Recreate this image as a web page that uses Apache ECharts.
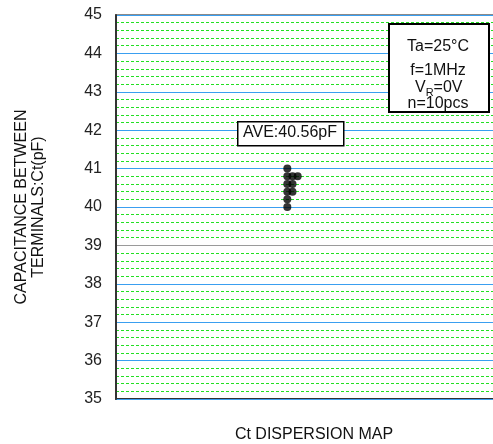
<!DOCTYPE html>
<html>
<head>
<meta charset="utf-8">
<script src="https://cdn.jsdelivr.net/npm/echarts@6/dist/echarts.min.js"></script>
<style>
html,body{margin:0;padding:0;background:#fff;}
#main{width:493px;height:444px;}
</style>
</head>
<body>
<div id="main"></div>
<script>
// ---- data ----
var ctValues = [41.0, 40.8, 40.8, 40.8, 40.6, 40.6, 40.4, 40.4, 40.2, 40.0];
var yTicks = [35, 36, 37, 38, 39, 40, 41, 42, 43, 44, 45];
var averageLabel = 'AVE:40.56pF';
var conditionLines = ['Ta=25°C', 'f=1MHz', 'V_R=0V', 'n=10pcs'];
var yAxisTitle = 'CAPACITANCE BETWEEN\nTERMINALS:Ct(pF)';
var xAxisTitle = 'Ct DISPERSION MAP';

// ---- dot-plot stacking (same value -> next column) ----
var colCenter = 43.26, colStep = 1.31;
var seen = {};
var points = ctValues.map(function (v) {
  var k = v.toFixed(2);
  var r = seen[k] || 0;
  seen[k] = r + 1;
  return [colCenter + r * colStep, v];
});

var majorColors = yTicks.map(function (t) { return t === 39 ? '#9a9a9a' : '#3a9ff0'; });
var green = '#22e022';
var minorColors = ['rgba(0,0,0,0)', green, green, green, green];

var chart = echarts.init(document.getElementById('main'), null, {renderer: 'canvas'});
var font = 'Arial, "Liberation Sans", sans-serif';
chart.setOption({
  animation: false,
  backgroundColor: '#ffffff',
  grid: {left: 116, right: -19, top: 15, bottom: 45, containLabel: false, outerBoundsMode: 'none'},
  xAxis: [{
    type: 'value', min: 0, max: 100, position: 'bottom',
    name: xAxisTitle, nameLocation: 'middle', nameGap: 28,
    nameTextStyle: {fontFamily: font, fontSize: 16, color: '#111'},
    axisLine: {show: true, onZero: false, lineStyle: {color: '#333', width: 2}},
    axisTick: {show: false}, axisLabel: {show: false}, splitLine: {show: false}
  }, {
    type: 'value', min: 0, max: 100, position: 'top',
    axisLine: {show: true, onZero: false, lineStyle: {color: '#8a8a8a', width: 2}},
    axisTick: {show: false}, axisLabel: {show: false}, splitLine: {show: false}
  }],
  yAxis: [{
    type: 'value', min: yTicks[0], max: yTicks[yTicks.length - 1], interval: 1,
    name: yAxisTitle, nameLocation: 'middle', nameGap: 69, nameRotate: 90,
    nameTextStyle: {fontFamily: font, fontSize: 16, color: '#111', lineHeight: 17, align: 'center'},
    axisLine: {show: true, lineStyle: {color: '#333', width: 2}},
    axisTick: {show: false},
    axisLabel: {fontFamily: font, fontSize: 16, color: '#222', margin: 14},
    splitLine: {show: true, lineStyle: {color: majorColors, width: 1}},
    z: 3
  }, {
    type: 'value', min: yTicks[0], max: yTicks[yTicks.length - 1], interval: 0.2,
    position: 'left', alignTicks: false,
    axisLine: {show: false}, axisTick: {show: false}, axisLabel: {show: false},
    splitLine: {show: true, lineStyle: {color: minorColors, width: 1, type: [3, 2]}},
    z: 2
  }],
  series: [{
    type: 'scatter',
    data: points,
    symbol: 'circle',
    symbolSize: 8,
    itemStyle: {color: '#000'},
    z: 5
  }],
  graphic: [
    {type: 'rect', left: 237, top: 121, shape: {width: 106, height: 24},
     style: {fill: '#fff', stroke: '#000', lineWidth: 1.5}, z: 10},
    {type: 'text', x: 290, y: 133, style: {text: averageLabel, font: '16px ' + font, fill: '#111', align: 'center', verticalAlign: 'middle'}, z: 11},
    {type: 'rect', left: 388, top: 23, shape: {width: 100, height: 88},
     style: {fill: '#fff', stroke: '#000', lineWidth: 2}, z: 10},
    {type: 'text', x: 438, y: 47, style: {text: conditionLines[0], font: '16px ' + font, fill: '#111', align: 'center', verticalAlign: 'middle'}, z: 11},
    {type: 'text', x: 438, y: 71, style: {text: conditionLines[1], font: '16px ' + font, fill: '#111', align: 'center', verticalAlign: 'middle'}, z: 11},
    {type: 'text', x: 415, y: 88, style: {text: conditionLines[2].split('_')[0], font: '16px ' + font, fill: '#111', align: 'left', verticalAlign: 'middle'}, z: 11},
    {type: 'text', x: 425.7, y: 93, style: {text: conditionLines[2].split('_')[1].charAt(0), font: '11px ' + font, fill: '#111', align: 'left', verticalAlign: 'middle'}, z: 11},
    {type: 'text', x: 433.6, y: 88, style: {text: conditionLines[2].split('_')[1].slice(1), font: '16px ' + font, fill: '#111', align: 'left', verticalAlign: 'middle'}, z: 11},
    {type: 'text', x: 438, y: 104, style: {text: conditionLines[3], font: '16px ' + font, fill: '#111', align: 'center', verticalAlign: 'middle'}, z: 11}
  ]
});
</script>
</body>
</html>
